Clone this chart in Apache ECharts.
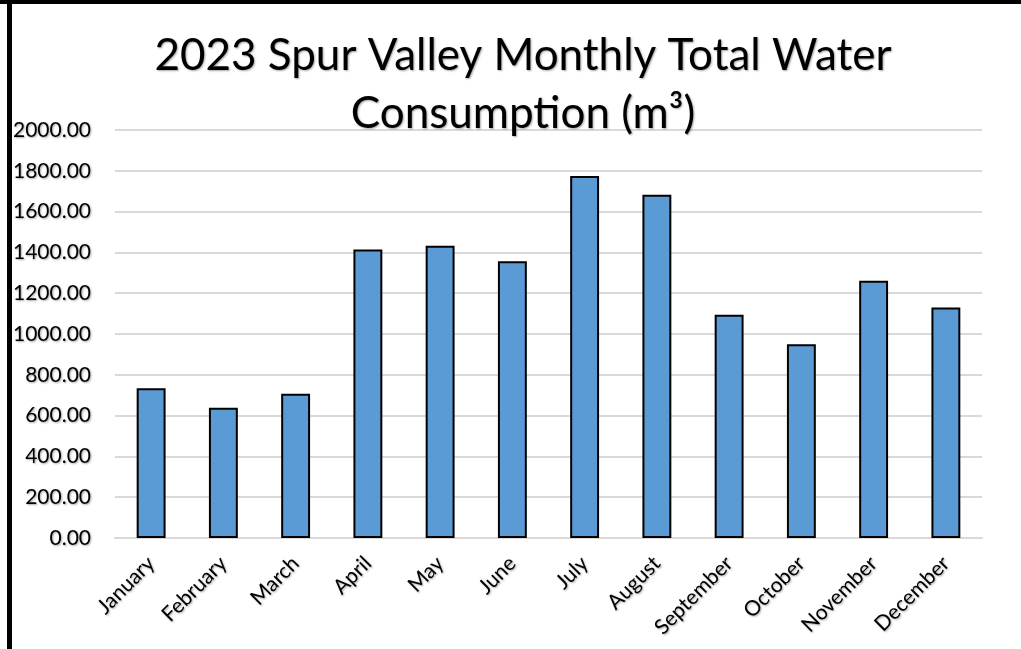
<!DOCTYPE html>
<html>
<head>
<meta charset="utf-8">
<title>2023 Spur Valley Monthly Total Water Consumption</title>
<script src="https://cdn.jsdelivr.net/npm/echarts@6/dist/echarts.min.js"></script>
<style>
  html, body { margin: 0; padding: 0; background: #fff; }
  #chart { width: 1021px; height: 649px; }
</style>
</head>
<body>
<div id="chart"></div>
<script>
// data
let months = ['January', 'February', 'March', 'April', 'May', 'June',
              'July', 'August', 'September', 'October', 'November', 'December'];
let consumption = [734, 638, 707, 1414, 1432, 1357, 1775, 1682, 1094, 950, 1261, 1130];
let yTicks = [0, 200, 400, 600, 800, 1000, 1200, 1400, 1600, 1800, 2000];

let myChart = echarts.init(document.getElementById('chart'));

let shadow = {
    textShadowColor: 'rgba(0,0,0,0.35)',
    textShadowBlur: 2,
    textShadowOffsetX: 1,
    textShadowOffsetY: 1
};

let option = {
    backgroundColor: '#fff',
    animation: false,
    title: {
        text: '2023 Spur Valley Monthly Total Water\nConsumption (m³)',
        left: 518,
        textAlign: 'center',
        top: 22,
        textStyle: Object.assign({
            fontFamily: 'Lato',
            fontSize: 44,
            fontWeight: 'normal',
            color: '#000',
            lineHeight: 58
        }, shadow)
    },
    graphic: [
        // frame lines round the picture
        { type: 'rect', shape: { x: 0, y: 0, width: 1021, height: 4 }, style: { fill: '#000' }, z: 100 },
        { type: 'rect', shape: { x: 7, y: 0, width: 5, height: 649 }, style: { fill: '#000' }, z: 100 }
    ],
    grid: {
        left: 115,
        right: 39,
        top: 130,
        bottom: 111,
        containLabel: false
    },
    xAxis: {
        type: 'category',
        data: months,
        axisLine: { show: true, lineStyle: { color: '#d9d9d9', width: 2 } },
        axisTick: { show: false },
        axisLabel: Object.assign({
            rotate: 45,
            interval: 0,
            margin: 22,
            fontFamily: 'Lato',
            fontSize: 21,
            color: '#000'
        }, shadow)
    },
    yAxis: {
        type: 'value',
        min: yTicks[0],
        max: yTicks[yTicks.length - 1],
        interval: 200,
        axisLine: { show: false },
        axisTick: { show: false },
        splitLine: { lineStyle: { color: '#d9d9d9', width: 2 } },
        axisLabel: Object.assign({
            margin: 24,
            fontFamily: 'Lato',
            fontSize: 21,
            color: '#000',
            formatter: v => v.toFixed(2)
        }, shadow)
    },
    series: [
        {
            type: 'bar',
            data: consumption,
            barCategoryGap: '60%',
            itemStyle: {
                color: '#5b9bd5',
                borderColor: '#000',
                borderWidth: 2
            }
        }
    ]
};

myChart.setOption(option);
</script>
</body>
</html>
